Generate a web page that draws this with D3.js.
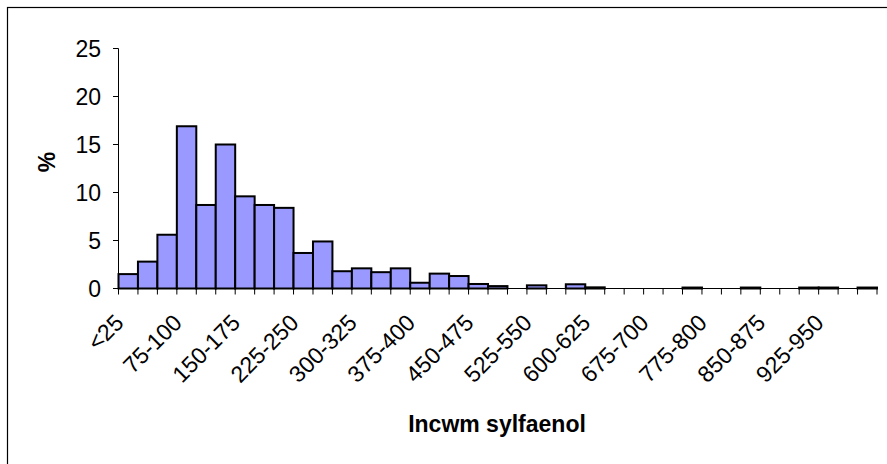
<!DOCTYPE html>
<html><head><meta charset="utf-8">
<script src="https://cdn.jsdelivr.net/npm/d3@7"></script>
<style>body{margin:0;background:#fff}svg{display:block}text{font-family:"Liberation Sans",Arial,sans-serif}</style>
</head><body>
<svg id="c" width="887" height="464"></svg>
<script>
const categories = ["<25","25-50","50-75","75-100","100-125","125-150","150-175","175-200","200-225","225-250",
  "250-275","275-300","300-325","325-350","350-375","375-400","400-425","425-450","450-475","475-500",
  "500-525","525-550","550-575","575-600","600-625","625-650","650-675","675-700","700-725","725-750",
  "775-800","800-825","825-850","850-875","875-900","900-925","925-950","950-975",">975"];
const values = [1.5,2.8,5.6,16.9,8.7,15.0,9.6,8.7,8.4,3.7,
  4.9,1.8,2.1,1.7,2.1,0.6,1.55,1.3,0.47,0.25,
  0,0.33,0,0.44,0.12,0,0,0,0,0.1,
  0,0,0.1,0,0,0.1,0.1,0,0.1];
const yTicks = [0,5,10,15,20,25];
const shownLabels = ["<25","75-100","150-175","225-250","300-325","375-400","450-475","525-550","600-625","675-700","775-800","850-875","925-950"];
const yTitle = "%";
const xTitle = "Incwm sylfaenol";

const svg = d3.select("#c");
svg.append("rect").attr("x",7.5).attr("y",7.5).attr("width",1000).attr("height",1000)
  .attr("fill","none").attr("stroke","#000").attr("stroke-width",1.2);

const x = d3.scaleBand().domain(categories).range([118.5, 877]).padding(0);
const y = d3.scaleLinear().domain([0,25]).range([288.5, 48.5]);

svg.append("g").selectAll("rect").data(categories.map((c,i)=>({c,v:values[i]})).filter(d=>d.v>0))
  .join("rect")
  .attr("x",d=>x(d.c)).attr("width",x.bandwidth())
  .attr("y",d=>y(d.v)).attr("height",d=>y(0)-y(d.v))
  .attr("fill","#9999FF").attr("stroke","#000").attr("stroke-width",2);

const ya = svg.append("g");
ya.append("line").attr("x1",118.5).attr("x2",118.5).attr("y1",y(25)).attr("y2",y(0)).attr("stroke","#000");
ya.selectAll("line.t").data(yTicks).join("line").attr("class","t")
  .attr("x1",113).attr("x2",118.5).attr("y1",d=>y(d)).attr("y2",d=>y(d)).attr("stroke","#000");
ya.selectAll("text").data(yTicks).join("text")
  .attr("x",101).attr("y",d=>y(d)).attr("dy","0.36em").attr("text-anchor","end")
  .attr("font-size",23).text(d=>d);

const xa = svg.append("g");
xa.append("line").attr("x1",118.5).attr("x2",877).attr("y1",y(0)).attr("y2",y(0)).attr("stroke","#000");
const bounds = categories.map(c=>x(c)).concat([x(categories[categories.length-1])+x.bandwidth()]);
xa.selectAll("line.t").data(bounds).join("line").attr("class","t")
  .attr("x1",d=>d).attr("x2",d=>d).attr("y1",y(0)).attr("y2",y(0)+6).attr("stroke","#000");
xa.selectAll("text").data(shownLabels).join("text")
  .attr("transform",d=>`translate(${x(d)+x.bandwidth()/2-9},${y(0)+30}) rotate(-45)`)
  .attr("text-anchor","end").attr("dy","0.35em").attr("font-size",23).text(d=>d);

svg.append("text").attr("x",497).attr("y",432).attr("text-anchor","middle")
  .attr("font-size",23).attr("font-weight","bold").text(xTitle);
svg.append("text").attr("transform","translate(55,162) rotate(-90)").attr("text-anchor","middle")
  .attr("font-size",23).attr("font-weight","bold").text(yTitle);
</script>
</body></html>
